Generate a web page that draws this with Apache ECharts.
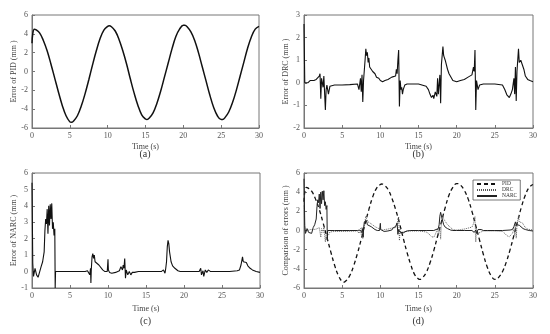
<!DOCTYPE html>
<html><head><meta charset="utf-8">
<script src="https://cdn.jsdelivr.net/npm/echarts@6/dist/echarts.min.js"></script>
<style>html,body{margin:0;padding:0;background:#fff}#c{width:550px;height:334px}</style>
</head><body><div id="c"></div>
<script>
// ---- data ----
var xTicks = [0, 5, 10, 15, 20, 25, 30];
var pidT = [0,0.1,0.3,0.5,1.0,1.5,2.0,2.5,3.0,3.5,4.0,4.5,5.0,5.2,5.5,6.0,6.5,7.0,7.5,8.0,8.5,9.0,9.5,10.0,10.2,10.5,11.0,11.5,12.0,12.5,13.0,13.5,14.0,14.5,15.0,15.2,15.5,16.0,16.5,17.0,17.5,18.0,18.5,19.0,19.5,20.0,20.2,20.5,21.0,21.5,22.0,22.5,23.0,23.5,24.0,24.5,25.0,25.2,25.5,26.0,26.5,27.0,27.5,28.0,28.5,29.0,29.5,30.0];
var pidV = [3.0,4.0,4.5,4.45,4.1,3.3,2.2,0.8,-0.7,-2.2,-3.6,-4.7,-5.35,-5.4,-5.25,-4.7,-3.7,-2.4,-0.9,0.7,2.2,3.5,4.4,4.8,4.85,4.75,4.3,3.4,2.2,0.8,-0.8,-2.3,-3.6,-4.6,-5.05,-5.1,-4.95,-4.4,-3.4,-2.1,-0.6,0.9,2.4,3.7,4.5,4.9,4.9,4.75,4.2,3.3,2.0,0.5,-1.0,-2.5,-3.8,-4.7,-5.1,-5.1,-4.9,-4.3,-3.3,-2.0,-0.5,1.0,2.5,3.7,4.5,4.8];
var drcT = [0,0.1,0.3,0.5,0.8,1.0,1.3,1.6,1.8,2.0,2.1,2.2,2.3,2.5,2.6,2.8,2.9,3.0,3.2,3.4,3.6,4.0,5.0,6.0,7.0,7.2,7.4,7.5,7.6,7.7,7.8,8.0,8.1,8.2,8.3,8.4,8.5,8.6,8.8,9.0,9.3,9.5,9.8,10.0,10.3,10.6,11.0,11.5,12.0,12.1,12.2,12.3,12.4,12.5,12.6,12.7,12.8,12.9,13.0,13.2,13.5,14.0,15.0,16.0,16.3,16.5,16.7,16.9,17.0,17.2,17.4,17.5,17.6,17.8,17.9,18.0,18.2,18.3,18.5,18.8,19.0,19.5,20.0,20.5,21.0,21.5,22.0,22.2,22.3,22.4,22.5,22.6,22.8,23.0,23.2,23.5,24.0,25.0,26.0,26.3,26.6,26.9,27.1,27.3,27.5,27.6,27.7,27.8,27.9,28.1,28.2,28.4,28.6,28.8,29.0,29.3,29.6,29.8,30.0];
var drcV = [2.6,0.0,-0.05,0.0,0.1,0.15,0.1,0.15,0.2,0.3,0.4,-0.7,0.2,-0.2,0.3,-1.2,-0.3,-0.1,-0.5,-0.15,-0.2,-0.1,-0.1,-0.08,-0.05,-0.3,0.2,-0.4,0.35,-0.85,0.1,1.0,1.5,1.2,1.35,0.9,1.1,0.7,0.7,0.5,0.4,0.25,0.2,0.1,0.05,0.1,0.15,0.25,0.3,0.6,0.4,1.0,1.45,-1.05,0.1,-0.3,-0.2,-0.5,-0.3,-0.1,-0.05,-0.05,-0.05,-0.15,-0.3,-0.5,-0.65,-0.55,-0.7,-0.4,-0.6,0.2,-0.5,0.35,-0.9,0.8,1.6,1.2,1.0,0.6,0.4,0.1,0.05,0.1,0.15,0.25,0.35,0.7,0.5,1.45,-1.2,0.1,-0.3,-0.1,-0.15,-0.05,-0.05,-0.05,-0.1,-0.3,-0.55,-0.65,-0.5,-0.3,0.2,-0.5,0.7,-0.8,0.5,1.5,0.9,1.0,0.8,0.6,0.3,0.15,0.1,0.05,0.05];
var narcT = [0,0.05,0.1,0.2,0.3,0.4,0.5,0.6,0.8,1.0,1.2,1.4,1.6,1.7,1.8,1.9,2.0,2.1,2.2,2.3,2.4,2.5,2.6,2.7,2.8,2.9,3.0,3.05,3.1,3.3,4.0,5.0,6.0,7.0,7.3,7.5,7.6,7.7,7.75,7.8,7.9,8.0,8.1,8.2,8.3,8.5,8.8,9.0,9.3,9.6,9.9,10.0,10.05,10.2,10.5,11.0,11.5,11.7,11.9,12.0,12.1,12.2,12.3,12.4,12.6,12.8,13.0,13.2,13.5,14.0,15.0,16.0,17.0,17.3,17.5,17.6,17.7,17.8,17.9,18.0,18.1,18.3,18.5,18.8,19.2,19.5,20.0,21.0,22.0,22.2,22.3,22.5,22.6,22.8,23.0,23.2,23.5,24.0,25.0,26.0,27.0,27.3,27.5,27.7,27.8,27.9,28.0,28.2,28.4,28.7,29.0,29.5,30.0];
var narcV = [5.4,3.0,0.5,-0.3,-0.4,0.2,0.25,-0.2,-0.35,-0.3,0.3,0.6,1.2,2.5,3.2,2.9,3.8,2.3,4.0,2.8,4.1,3.2,4.15,2.6,3.0,2.2,2.6,-1.0,0.0,0.1,0.0,0.0,0.0,0.0,0.05,0.1,-0.2,0.2,-0.7,0.1,0.9,1.1,0.8,1.0,0.6,0.5,0.4,0.3,0.1,0.0,0.0,0.75,0.1,-0.05,-0.1,-0.05,0.05,0.3,0.1,0.4,0.2,0.8,-0.4,0.1,-0.2,0.0,-0.2,-0.05,-0.05,0.0,0.0,0.0,0.0,0.1,-0.1,0.2,0.6,1.5,1.9,1.7,1.2,0.6,0.35,0.2,0.05,0.0,0.0,0.0,0.0,0.2,-0.2,0.05,-0.3,0.1,-0.05,0.1,0.0,0.0,0.0,0.0,0.05,0.1,0.4,0.9,0.6,0.7,0.5,0.55,0.35,0.2,0.1,0.0,-0.05];
var yNames = ['Error of PID (mm )', 'Error of DRC (mm )', 'Error of NARC (mm )', 'Comparison of errors (mm )'];
var panelLabels = ['(a)', '(b)', '(c)', '(d)'];
var legendNames = ['PID', 'DRC', 'NARC'];

function zip(t, v) { return t.map(function (x, i) { return [x, v[i]]; }); }

var font = 'Liberation Serif';
var grids = [
  {left: 32, top: 15, width: 227, height: 113},
  {left: 304, top: 15, width: 229, height: 113},
  {left: 32, top: 173, width: 228, height: 115},
  {left: 304, top: 173, width: 229, height: 115}
];
var nameGaps = [15, 15, 17, 17];
var labelOffsets = [21, 21, 28, 28];
var yRanges = [[-6, 6, 2], [-2, 3, 1], [-1, 6, 1], [-6, 6, 2]];

var option = {
  animation: false,
  backgroundColor: '#fff',
  grid: grids.map(function (g) {
    return Object.assign({show: true, borderColor: '#777', borderWidth: 1, containLabel: false}, g);
  }),
  xAxis: grids.map(function (g, i) {
    return {
      type: 'value', gridIndex: i, min: 0, max: 30, interval: 5,
      name: 'Time (s)', nameLocation: 'middle', nameGap: nameGaps[i],
      nameTextStyle: {fontFamily: font, fontSize: 8, color: '#444'},
      axisLine: {show: true, onZero: false, lineStyle: {color: '#777', width: 1}},
      axisTick: {show: true, inside: true, length: 3, lineStyle: {color: '#777'}},
      axisLabel: {fontFamily: font, fontSize: 8, color: '#555', margin: 4},
      splitLine: {show: false}
    };
  }),
  yAxis: grids.map(function (g, i) {
    var r = yRanges[i];
    return {
      type: 'value', gridIndex: i, min: r[0], max: r[1], interval: r[2],
      name: yNames[i], nameLocation: 'middle', nameGap: 14, nameRotate: 90,
      nameTextStyle: {fontFamily: font, fontSize: 8, color: '#444'},
      axisLine: {show: true, onZero: false, lineStyle: {color: '#777', width: 1}},
      axisTick: {show: true, inside: true, length: 3, lineStyle: {color: '#777'}},
      axisLabel: {fontFamily: font, fontSize: 8, color: '#555', margin: 4},
      splitLine: {show: false}
    };
  }),
  legend: {
    data: legendNames, orient: 'vertical', left: 473, top: 180,
    itemWidth: 20, itemHeight: 6, itemGap: 0,
    padding: [1, 3, 1, 3],
    borderColor: '#555', borderWidth: 0.8,
    itemStyle: {opacity: 0},
    textStyle: {fontFamily: font, fontSize: 5.5, color: '#333'},
    selectedMode: false
  },
  graphic: grids.map(function (g, i) {
    return {
      type: 'text', left: g.left + g.width / 2 - 6, top: g.top + g.height + labelOffsets[i],
      style: {text: panelLabels[i], font: '10px "Liberation Serif"', fill: '#333'}
    };
  }),
  series: [
    {name: 'pidA', type: 'line', xAxisIndex: 0, yAxisIndex: 0, data: zip(pidT, pidV), smooth: 0.4, showSymbol: false, lineStyle: {color: '#111', width: 1.5}},
    {name: 'drcB', type: 'line', xAxisIndex: 1, yAxisIndex: 1, data: zip(drcT, drcV), showSymbol: false, lineStyle: {color: '#111', width: 1.1}},
    {name: 'narcC', type: 'line', xAxisIndex: 2, yAxisIndex: 2, data: zip(narcT, narcV), showSymbol: false, lineStyle: {color: '#111', width: 1.1}},
    {name: 'PID', type: 'line', xAxisIndex: 3, yAxisIndex: 3, data: zip(pidT, pidV), smooth: 0.4, showSymbol: false, symbol: 'none', itemStyle: {color: '#111'}, lineStyle: {color: '#111', width: 1.3, type: [4, 3]}},
    {name: 'DRC', type: 'line', xAxisIndex: 3, yAxisIndex: 3, data: zip(drcT, drcV), showSymbol: false, symbol: 'none', itemStyle: {color: '#555'}, lineStyle: {color: '#555', width: 0.9, type: [1, 1]}},
    {name: 'NARC', type: 'line', xAxisIndex: 3, yAxisIndex: 3, data: zip(narcT, narcV), showSymbol: false, symbol: 'none', itemStyle: {color: '#222'}, lineStyle: {color: '#222', width: 1}}
  ]
};
var chart = echarts.init(document.getElementById('c'), null, {renderer: 'canvas'});
chart.setOption(option);
</script></body></html>
